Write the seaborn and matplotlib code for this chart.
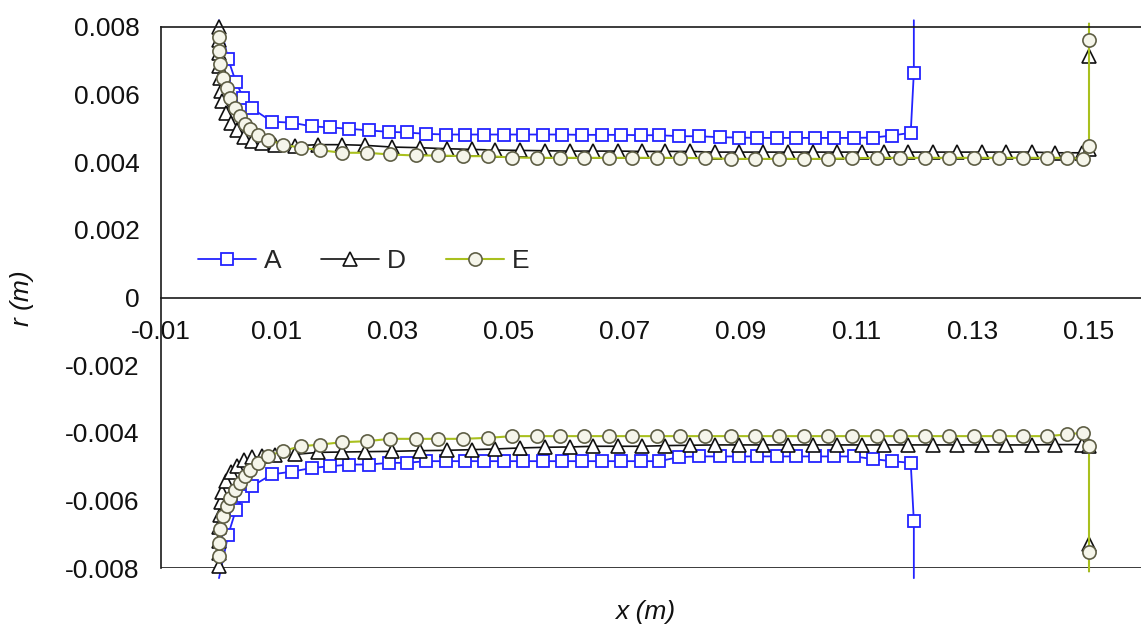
import matplotlib
matplotlib.use("Agg")
import matplotlib.pyplot as plt
import seaborn as sns

# ---------------- data ----------------
series_names = ["A", "D", "E"]

x_A = [0.0, 0.0016, 0.00293, 0.00419, 0.00569, 0.00914, 0.01259, 0.01603, 0.01914, 0.02247,
       0.02591, 0.02926, 0.03236, 0.03569, 0.03914, 0.04247, 0.04569, 0.04914, 0.05247, 0.05581,
       0.05914, 0.06259, 0.06603, 0.06936, 0.07271, 0.07591, 0.07936, 0.08271, 0.08638, 0.0897,
       0.09281, 0.09626, 0.09948, 0.10276, 0.10603, 0.1095, 0.11281, 0.11598, 0.11926, 0.1198, 0.1198]
r_top_A = [0.0082, 0.00704, 0.00636, 0.00591, 0.00559, 0.0052, 0.00517, 0.00506, 0.00503, 0.00499,
           0.00494, 0.0049, 0.00488, 0.00484, 0.00482, 0.00482, 0.00482, 0.00482, 0.00482, 0.00482,
           0.00482, 0.00481, 0.00481, 0.00481, 0.0048, 0.0048, 0.00477, 0.00477, 0.00474, 0.00473,
           0.00472, 0.00472, 0.00472, 0.00472, 0.00472, 0.00472, 0.00473, 0.00479, 0.00487, 0.00665, 0.0082]
r_bot_A = [-0.0083, -0.00701, -0.00627, -0.00588, -0.00558, -0.00523, -0.00515, -0.00504, -0.00499, -0.00494,
           -0.00494, -0.00489, -0.00489, -0.00484, -0.00484, -0.00484, -0.00484, -0.00484, -0.00484, -0.00484,
           -0.00484, -0.00484, -0.00484, -0.00484, -0.00484, -0.00484, -0.00472, -0.0047, -0.0047, -0.0047,
           -0.0047, -0.0047, -0.0047, -0.0047, -0.0047, -0.0047, -0.00478, -0.00484, -0.00489, -0.00661, -0.0083]

x_D = [0.0, 0.0, 0.0, 0.0, 0.00017, 0.00034, 0.0006, 0.00121, 0.00207, 0.0031,
       0.00431, 0.00569, 0.00741, 0.00966, 0.0131,
       0.01712, 0.02116, 0.02517, 0.02978, 0.03466, 0.03926, 0.04357, 0.04759, 0.0519, 0.05621,
       0.06052, 0.06453, 0.06884, 0.07288, 0.0769, 0.08121, 0.08552, 0.0897, 0.09384, 0.09816,
       0.10247, 0.1066, 0.11091, 0.11466, 0.11884, 0.12305, 0.12719, 0.1315, 0.13569, 0.14012,
       0.14414, 0.14874, 0.15, 0.15, 0.15]
r_top_D = [0.008, 0.00763, 0.00724, 0.00686, 0.00648, 0.00612, 0.0058, 0.00547, 0.00517, 0.00494,
           0.00476, 0.00464, 0.00458, 0.00452, 0.00449,
           0.00452, 0.00452, 0.0045, 0.00445, 0.00443, 0.0044, 0.00438, 0.00436, 0.00435, 0.00434,
           0.00433, 0.00433, 0.00433, 0.00432, 0.00432, 0.00432, 0.0043, 0.0043, 0.0043, 0.0043,
           0.0043, 0.0043, 0.0043, 0.0043, 0.0043, 0.0043, 0.0043, 0.0043, 0.0043, 0.0043,
           0.00428, 0.00428, 0.0044, 0.00713, 0.0081]
r_bot_D = [-0.00795, -0.00757, -0.00719, -0.0068, -0.00642, -0.00606, -0.00574, -0.00544, -0.00517, -0.00497,
           -0.00482, -0.00473, -0.0047, -0.00467, -0.00464,
           -0.00458, -0.00457, -0.00456, -0.00455, -0.00453, -0.00452, -0.0045, -0.00448, -0.00445, -0.00443,
           -0.00442, -0.0044, -0.0044, -0.0044, -0.00438, -0.00437, -0.00436, -0.00436, -0.00436, -0.00436,
           -0.00436, -0.00436, -0.00436, -0.00436, -0.00436, -0.00436, -0.00436, -0.00436, -0.00436, -0.00436,
           -0.00435, -0.00435, -0.0044, -0.0073, -0.0081]

x_E = [0.0, 0.0, 0.00017, 0.00074, 0.00133, 0.0019, 0.00276, 0.00362, 0.00448, 0.00534,
       0.00664, 0.0085, 0.01095, 0.01414, 0.0174,
       0.02116, 0.02547, 0.02948, 0.03388, 0.03781, 0.04212, 0.04643, 0.0506, 0.05478, 0.05879,
       0.06293, 0.06716, 0.07116, 0.07547, 0.07948, 0.08371, 0.08822, 0.0925, 0.0966, 0.10086,
       0.105, 0.10917, 0.1134, 0.11748, 0.12172, 0.12591, 0.13017, 0.13441, 0.13867, 0.14284,
       0.14616, 0.14902, 0.15, 0.15, 0.15]
r_top_E = [0.0077, 0.0073, 0.0069, 0.0065, 0.0062, 0.0059, 0.0056, 0.00536, 0.00512, 0.00497,
           0.00482, 0.00467, 0.00452, 0.00443, 0.00436,
           0.00428, 0.00428, 0.00423, 0.0042, 0.0042, 0.00418, 0.00418, 0.00414, 0.00413, 0.00413,
           0.00413, 0.00413, 0.00413, 0.00413, 0.00413, 0.00412, 0.0041, 0.0041, 0.0041, 0.0041,
           0.0041, 0.00412, 0.00413, 0.00413, 0.00413, 0.00413, 0.00413, 0.00413, 0.00413, 0.00413,
           0.00413, 0.0041, 0.00447, 0.00763, 0.0081]
r_bot_E = [-0.00765, -0.00725, -0.00686, -0.00647, -0.00617, -0.00592, -0.00568, -0.00548, -0.00529, -0.00509,
           -0.00489, -0.00469, -0.00454, -0.0044, -0.00435,
           -0.00428, -0.00425, -0.00418, -0.00418, -0.00418, -0.00418, -0.00415, -0.0041, -0.0041, -0.0041,
           -0.0041, -0.0041, -0.0041, -0.0041, -0.0041, -0.0041, -0.0041, -0.0041, -0.0041, -0.0041,
           -0.0041, -0.0041, -0.0041, -0.0041, -0.0041, -0.0041, -0.0041, -0.0041, -0.0041, -0.0041,
           -0.00405, -0.004, -0.0044, -0.00754, -0.0081]

xticks = [-0.01, 0.01, 0.03, 0.05, 0.07, 0.09, 0.11, 0.13, 0.15]
xtick_labels = ["-0.01", "0.01", "0.03", "0.05", "0.07", "0.09", "0.11", "0.13", "0.15"]
yticks = [-0.008, -0.006, -0.004, -0.002, 0.0, 0.002, 0.004, 0.006, 0.008]
ytick_labels = ["-0.008", "-0.006", "-0.004", "-0.002", "0", "0.002", "0.004", "0.006", "0.008"]

# ---------------- styling ----------------
sns.set_style("white")
plt.rcParams["font.family"] = ["Liberation Sans", "DejaVu Sans"]

W, H = 1141, 630
fig = plt.figure(figsize=(W / 100, H / 100), dpi=100)
ax = fig.add_axes([161 / W, (H - 568) / H, 986 / W, 541 / H])

styles = {
    "A": dict(color="#2323ff", marker="s", ms=8.3, mfc="white", mec="#2323ff", mew=1.3, lw=1.3,
              markevery=list(range(1, len(x_A) - 1))),
    "D": dict(color="#111111", marker="^", ms=9.5, mfc="white", mec="#111111", mew=1.2, lw=1.2,
              markevery=list(range(0, len(x_D) - 1))),
    "E": dict(color="#a9c01e", marker="o", ms=9.5, mfc="#f5f5ea", mec="#5e5e45", mew=1.2, lw=1.5,
              markevery=list(range(0, len(x_E) - 1))),
}
data = {
    "A": (x_A, r_top_A, r_bot_A),
    "D": (x_D, r_top_D, r_bot_D),
    "E": (x_E, r_top_E, r_bot_E),
}

handles = []
for name in series_names:
    xs, rt, rb = data[name]
    st = styles[name]
    n0 = len(ax.lines)
    sns.lineplot(x=xs, y=rt, sort=False, estimator=None, ax=ax, clip_on=False, **st)
    handles.append(ax.lines[n0])
    sns.lineplot(x=xs, y=rb, sort=False, estimator=None, ax=ax, clip_on=False, **st)

ax.set_xlim(-0.01, 0.16)
ax.set_ylim(-0.008, 0.008)

spine_c = "#1a1a1a"
for s in ["left", "top", "bottom"]:
    ax.spines[s].set_color(spine_c)
    ax.spines[s].set_linewidth(1.2)
ax.spines["right"].set_visible(False)
ax.spines["bottom"].set_position(("data", 0))
ax.axhline(-0.008, color=spine_c, lw=1.2, zorder=0.5)

ax.set_xticks(xticks)
ax.set_xticklabels(xtick_labels)
ax.set_yticks(yticks)
ax.set_yticklabels(ytick_labels)
ax.tick_params(axis="both", direction="out", length=7.5, width=1.1, color=spine_c,
               labelsize=19, labelcolor="#111111")
ax.tick_params(axis="y", pad=8)
ax.tick_params(axis="x", pad=9)
ax.set_xlabel("")
ax.set_ylabel("")
ax.grid(False)

ax.legend(handles, series_names, loc="center left",
          bbox_to_anchor=((198 - 161) / 986, (568 - 261) / 541),
          ncol=3, frameon=False, fontsize=19, handlelength=2.2, handletextpad=0.3,
          columnspacing=1.5, borderpad=0, borderaxespad=0)

fig.text(22 / W, 1 - 298 / H, "r (m)", rotation=90, style="italic", ha="center", va="center",
         fontsize=19, color="#111111")
fig.text(645 / W, 1 - 612 / H, "x (m)", style="italic", ha="center", va="center",
         fontsize=19, color="#111111")

fig.savefig("out.png", dpi=100)
